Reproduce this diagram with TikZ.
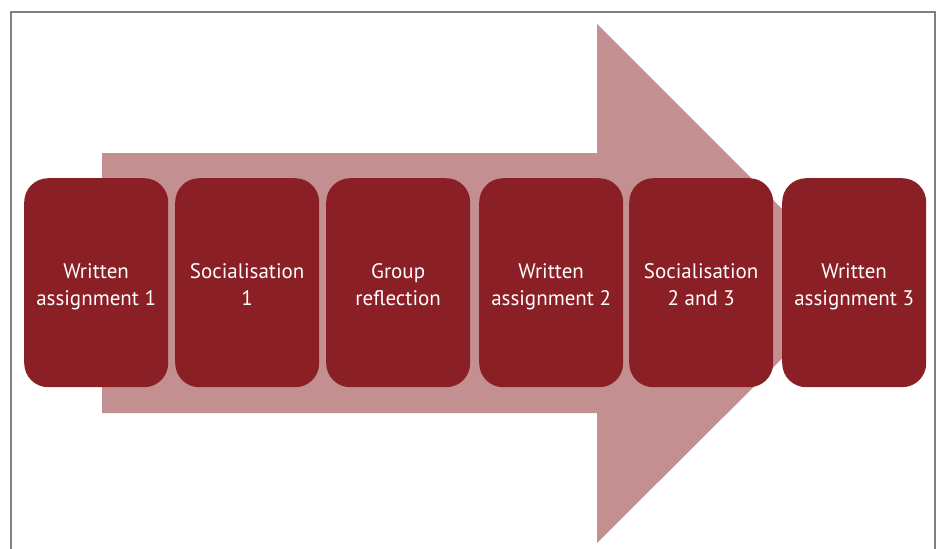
\documentclass[tikz,border=0pt]{standalone}
\usepackage{fontspec}
\setmainfont{PT Sans}
\definecolor{boxred}{HTML}{8A2025}
\definecolor{arrowpink}{HTML}{C48F90}
\definecolor{framegray}{HTML}{808080}
\newcommand{\stagetext}[1]{\raisebox{-3.6pt}[\height][\depth]{\setlength{\tabcolsep}{0pt}\begin{tabular}{c}#1\end{tabular}}}
\begin{document}
\begin{tikzpicture}[x=1pt,y=-1pt,
  stagebox/.style={fill=boxred, rounded corners=24pt, minimum width=144pt, minimum height=209pt,
    inner sep=0pt, text=white, font=\fontsize{21}{27}\selectfont, anchor=north west}]
\useasboundingbox (0,0) rectangle (940,549);
\draw[framegray, line width=1.5pt] (11,560) -- (11,12) -- (935,12) -- (935,560);
\fill[arrowpink] (102,153) -- (597,153) -- (597,24) -- (857,284) -- (597,543) -- (597,413) -- (102,413) -- cycle;
\node[stagebox] (s1) at (24,178) {\stagetext{Written\\assignment 1}};
\node[stagebox] (s2) at (175,178) {\stagetext{Socialisation\\1}};
\node[stagebox] (s3) at (326,178) {\stagetext{Group\\reflection}};
\node[stagebox] (s4) at (479,178) {\stagetext{Written\\assignment 2}};
\node[stagebox] (s5) at (629,178) {\stagetext{Socialisation\\2 and 3}};
\node[stagebox] (s6) at (782,178) {\stagetext{Written\\assignment 3}};
\end{tikzpicture}
\end{document}
